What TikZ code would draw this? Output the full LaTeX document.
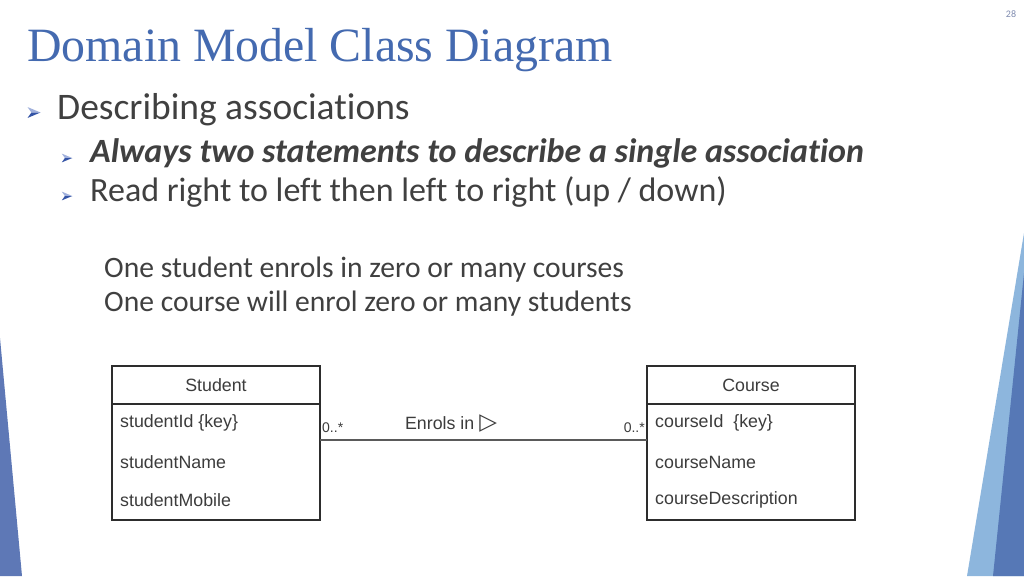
\documentclass[tikz,border=0pt]{standalone}
\usepackage{fontspec}
\setmainfont[Ligatures={NoCommon}]{Carlito}
\newfontfamily\titlefont{Liberation Serif}
\newfontfamily\umlfont{Liberation Sans}
\newfontfamily\symfont{DejaVu Sans}
\usetikzlibrary{positioning}

\definecolor{titleblue}{RGB}{68,106,176}
\definecolor{textgray}{RGB}{64,64,64}
\definecolor{bulletlight}{RGB}{160,176,220}
\definecolor{bulletdark}{RGB}{52,84,166}
\definecolor{decolight}{RGB}{141,182,221}
\definecolor{decodark}{RGB}{86,120,182}
\definecolor{decoleft}{RGB}{94,120,182}
\definecolor{umlline}{RGB}{45,45,45}
\definecolor{umltext}{RGB}{60,60,60}
\definecolor{assocgray}{RGB}{90,90,90}
\definecolor{pagegray}{RGB}{128,140,176}

\tikzset{
  umlhead/.style={draw=umlline, line width=1.3pt, outer sep=0pt, inner sep=0pt,
    minimum width=208pt, minimum height=38pt, text=umltext,
    font=\umlfont\fontsize{17.8}{20}\selectfont},
  umlbody/.style={draw=umlline, line width=1.3pt, outer sep=0pt, inner sep=0pt,
    minimum width=208pt, minimum height=116pt},
  umlattr/.style={anchor=west, inner sep=0pt, text=umltext,
    font=\umlfont\fontsize{17.8}{20}\selectfont},
  mult/.style={inner sep=0pt, text=umltext, font=\umlfont\fontsize{14}{16}\selectfont},
  assoc/.style={draw=assocgray, line width=1.6pt},
  slidetext/.style={anchor=base west, inner sep=0pt, text=textgray}
}

\begin{document}
\begin{tikzpicture}[x=1pt,y=-1pt]
  \useasboundingbox (0,0) rectangle (1024,576);
  \fill[white] (0,0) rectangle (1024,576);

  %飾り(左下と右下)
  \fill[decoleft] (0,338) -- (22,576) -- (0,576) -- cycle;
  \fill[decolight] (1024,233) -- (967,576) -- (1024,576) -- cycle;
  \fill[decodark] (1024,273) -- (993,576) -- (1024,576) -- cycle;

  %ページ番号
  \node[text=pagegray, font=\fontsize{10}{11}\selectfont] (pagenum) at (1011,14) {28};

  %タイトル
  \node[anchor=base west, inner sep=0pt, text=titleblue,
    font=\titlefont\fontsize{47.8}{50}\selectfont] (title) at (27,61) {Domain Model Class Diagram};

  %箇条書きの矢印
  \foreach \cx/\cy/\s in {34/112.5/13, 67/158/10.5, 67/196/10.5} {
    \fill[bulletlight] (\cx+0.5*\s,\cy) -- (\cx-0.5*\s,\cy-0.42*\s) -- (\cx-0.2*\s,\cy) -- cycle;
    \fill[bulletdark] (\cx+0.5*\s,\cy) -- (\cx-0.2*\s,\cy) -- (\cx-0.5*\s,\cy+0.42*\s) -- cycle;
  }

  %本文
  \node[slidetext, font=\fontsize{37.5}{40}\selectfont] (lvlone) at (57,119) {Describing associations};
  \node[slidetext, font=\fontsize{34}{36}\selectfont\bfseries\itshape] (lvltwoa) at (90,162)
    {Always two statements to describe a single association};
  \node[slidetext, font=\fontsize{34}{36}\selectfont] (lvltwob) at (90,201)
    {Read right to left then left to right (up / down)};
  \node[slidetext, font=\fontsize{29.6}{32}\selectfont] (reada) at (104,277)
    {One student enrols in zero or many courses};
  \node[slidetext, font=\fontsize{29.6}{32}\selectfont] (readb) at (104,311)
    {One course will enrol zero or many students};

  %クラス図
  \node[umlhead] (studenthead) at (216,385) {Student};
  \node[umlbody, below=0pt of studenthead] (studentbody) {};
  \node[umlattr] (sid) at (120,423) {studentId \{key\}};
  \node[umlattr] (sname) at (120,462) {studentName};
  \node[umlattr] (smobile) at (120,500) {studentMobile};

  \node[umlhead] (coursehead) at (751,385) {Course};
  \node[umlbody, below=0pt of coursehead] (coursebody) {};
  \node[umlattr] (cid) at (655,423) {courseId\ \ \{key\}};
  \node[umlattr] (cname) at (655,462) {courseName};
  \node[umlattr] (cdesc) at (655,500) {courseDescription};

  %関連
  \draw[assoc] ([yshift=22pt]studentbody.east) -- ([yshift=22pt]coursebody.west);
  \node[mult, anchor=west] (multleft) at (322,428) {0..*};
  \node[mult, anchor=east] (multright) at (645,428) {0..*};
  \node[inner sep=0pt, text=umltext, font=\umlfont\fontsize{17.8}{20}\selectfont] (enrol) at (451,424)
    {Enrols in {\symfont\fontsize{23}{20}\selectfont ▷}};
\end{tikzpicture}
\end{document}
